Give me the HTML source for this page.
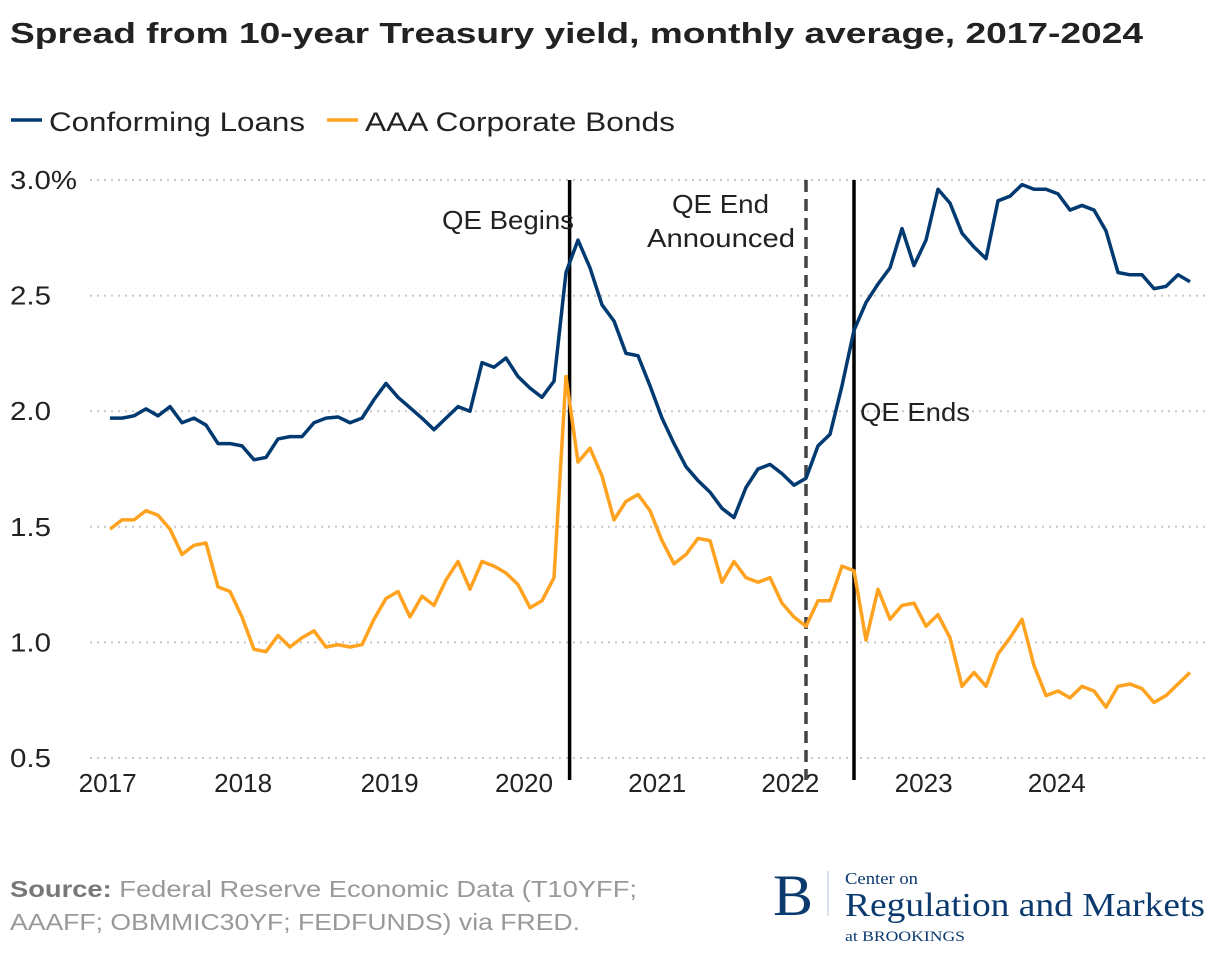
<!DOCTYPE html>
<html><head><meta charset="utf-8"><style>
body{margin:0;background:#fff;}
svg{display:block;font-family:"Liberation Sans",sans-serif;}
</style></head><body>
<svg id="chart" width="1220" height="960" viewBox="0 0 1220 960" xmlns="http://www.w3.org/2000/svg">
<text x="10" y="43" font-size="29" font-weight="bold" fill="#222" textLength="1133" lengthAdjust="spacingAndGlyphs">Spread from 10-year Treasury yield, monthly average, 2017-2024</text>
<g>
<line x1="11" y1="120" x2="42" y2="120" stroke="#003a70" stroke-width="3.5"/>
<text x="49" y="131" font-size="27" fill="#222" textLength="256" lengthAdjust="spacingAndGlyphs">Conforming Loans</text>
<line x1="327" y1="120" x2="358" y2="120" stroke="#ffa21f" stroke-width="3.5"/>
<text x="365" y="131" font-size="27" fill="#222" textLength="310" lengthAdjust="spacingAndGlyphs">AAA Corporate Bonds</text>
</g>
<g id="grid"></g><g id="ylabels"></g><g id="xlabels"></g><g id="annot"></g><g id="series"></g>
<text x="10" y="897" font-size="23" fill="#999" textLength="627" lengthAdjust="spacingAndGlyphs"><tspan font-weight="bold" fill="#777">Source:</tspan> Federal Reserve Economic Data (T10YFF;</text>
<text x="10" y="930" font-size="23" fill="#999" textLength="570" lengthAdjust="spacingAndGlyphs">AAAFF; OBMMIC30YF; FEDFUNDS) via FRED.</text>
<g font-family="Liberation Serif, serif" fill="#0b3a6f">
<text x="773" y="915" font-size="58" textLength="40" lengthAdjust="spacingAndGlyphs">B</text>
<line x1="828" y1="871" x2="828" y2="916" stroke="#b8c4d4" stroke-width="1"/>
<text x="845" y="884" font-size="17" textLength="73" lengthAdjust="spacingAndGlyphs">Center on</text>
<text x="845" y="916" font-size="34" textLength="360" lengthAdjust="spacingAndGlyphs">Regulation and Markets</text>
<text x="845" y="941" font-size="15" textLength="120" lengthAdjust="spacingAndGlyphs">at BROOKINGS</text>
</g>
</svg>
<script>
const conforming=[1.97,1.97,1.98,2.01,1.98,2.02,1.95,1.97,1.94,1.86,1.86,1.85,1.79,1.80,1.88,1.89,1.89,1.95,1.97,1.975,1.95,1.97,2.05,2.12,2.06,2.015,1.97,1.92,1.97,2.02,2.00,2.21,2.19,2.23,2.15,2.10,2.06,2.13,2.60,2.74,2.62,2.46,2.39,2.25,2.24,2.11,1.97,1.86,1.76,1.70,1.65,1.58,1.54,1.67,1.75,1.77,1.73,1.68,1.71,1.85,1.90,2.11,2.35,2.47,2.55,2.62,2.79,2.63,2.74,2.96,2.90,2.77,2.71,2.66,2.91,2.93,2.98,2.96,2.96,2.94,2.87,2.89,2.87,2.78,2.60,2.59,2.59,2.53,2.54,2.59,2.56];
const aaa=[1.49,1.53,1.53,1.57,1.55,1.49,1.38,1.42,1.43,1.24,1.22,1.11,0.97,0.96,1.03,0.98,1.02,1.05,0.98,0.99,0.98,0.99,1.10,1.19,1.22,1.11,1.20,1.16,1.27,1.35,1.23,1.35,1.33,1.30,1.25,1.15,1.18,1.28,2.15,1.78,1.84,1.72,1.53,1.61,1.64,1.57,1.44,1.34,1.38,1.45,1.44,1.26,1.35,1.28,1.26,1.28,1.17,1.11,1.07,1.18,1.18,1.33,1.31,1.01,1.23,1.10,1.16,1.17,1.07,1.12,1.02,0.81,0.87,0.81,0.95,1.02,1.10,0.90,0.77,0.79,0.76,0.81,0.79,0.72,0.81,0.82,0.80,0.74,0.77,0.82,0.87];
const yTicks=[3.0,2.5,2.0,1.5,1.0,0.5];
const yTickLabels=["3.0%","2.5","2.0","1.5","1.0","0.5"];
const xTickLabels=["2017","2018","2019","2020","2021","2022","2023","2024"];
const xTickMonth=[-0.2,11.1,23.3,34.5,45.6,56.7,67.8,78.9];
const eventMonths=[38.3,58,62];
const eventDashed=[false,true,false];
const NS="http://www.w3.org/2000/svg";
const x=m=>110+m*12;
const y=v=>180+(3.0-v)*231.2;
function mk(tag,attrs,parent){const e=document.createElementNS(NS,tag);for(const k in attrs)e.setAttribute(k,attrs[k]);parent.appendChild(e);return e;}
const grid=document.getElementById('grid'),yl=document.getElementById('ylabels'),xl=document.getElementById('xlabels'),an=document.getElementById('annot'),se=document.getElementById('series');
yTicks.forEach((t,i)=>{
 const g=mk('line',{x1:90,x2:1210,y1:y(t),y2:y(t),stroke:'#c8c8c8','stroke-width':2,'stroke-dasharray':'2 5'},grid);
 
 
 const lbl=yTickLabels[i];
 const tx=mk('text',{x:10,y:y(t)+9,'font-size':26,fill:'#222',textLength:lbl.length>3?67:41,lengthAdjust:'spacingAndGlyphs'},yl);
 
 
 tx.textContent=lbl;
});
xTickLabels.forEach((l,i)=>{
 const tx=mk('text',{x:x(xTickMonth[i])-29,y:792,'font-size':26,fill:'#222',textLength:58,lengthAdjust:'spacingAndGlyphs'},xl);
 
 
 tx.textContent=l;
});
eventMonths.forEach((m,i)=>{
 const ln=mk('line',{x1:x(m),x2:x(m),y1:180,y2:780,stroke:eventDashed[i]?'#444':'#000','stroke-width':3.5},an);
 if(eventDashed[i])ln.setAttribute('stroke-dasharray','12 7');
 
 
});
const lab=[{x:442,y:229,w:132,t:'QE Begins'},{x:672,y:213,w:97,t:'QE End'},{x:647,y:247,w:148,t:'Announced'},{x:860,y:421,w:110,t:'QE Ends'}];
lab.forEach(o=>{
 const tx=mk('text',{x:o.x,y:o.y,'font-size':26,fill:'#222',textLength:o.w,lengthAdjust:'spacingAndGlyphs'},an);
 
 
 tx.textContent=o.t;});
function line(data,color,name){
 const p=mk('polyline',{points:data.map((v,i)=>x(i)+','+y(v)).join(' '),fill:'none',stroke:color,'stroke-width':3.5,'stroke-linejoin':'round'},se);
 
 
}
line(aaa,'#ffa21f','aaa-corporate-bonds-line');
line(conforming,'#003a70','conforming-loans-line');
</script>
</body></html>
